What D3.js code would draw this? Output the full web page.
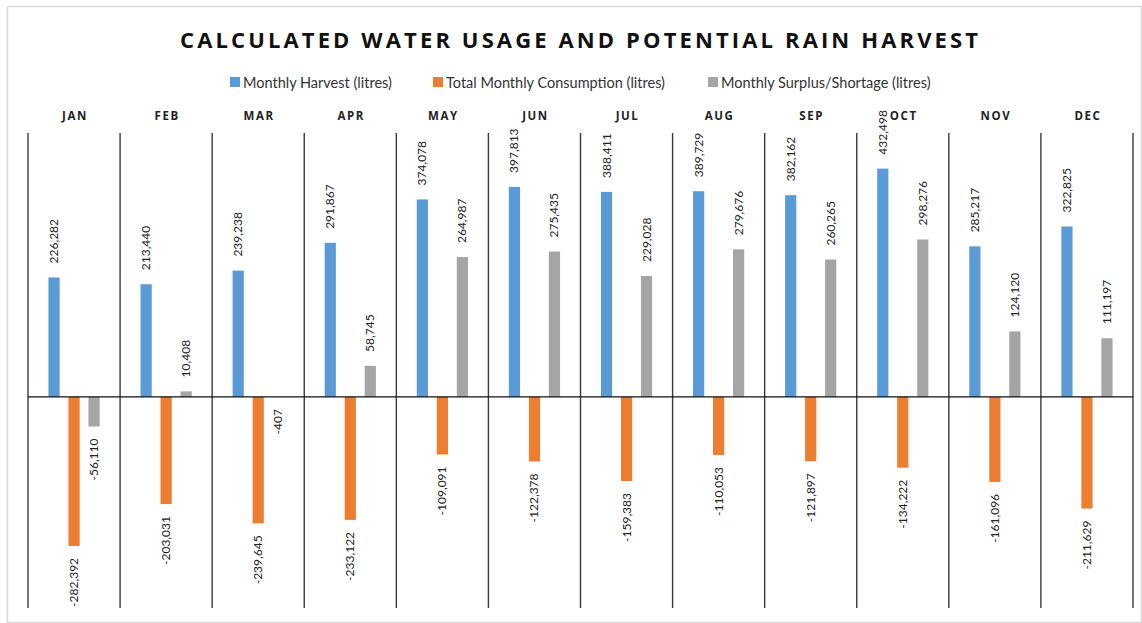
<!DOCTYPE html>
<html>
<head>
<meta charset="utf-8">
<script src="https://cdn.jsdelivr.net/npm/d3@7"></script>
<style>
  html, body { margin: 0; padding: 0; background: #fff; }
  svg { display: block; }
</style>
</head>
<body>
<svg id="chart" width="1142" height="623"></svg>
<script>
// Monthly rain-harvest figures (litres)
const months = ["JAN", "FEB", "MAR", "APR", "MAY", "JUN", "JUL", "AUG", "SEP", "OCT", "NOV", "DEC"];
const harvest = [226282, 213440, 239238, 291867, 374078, 397813, 388411, 389729, 382162, 432498, 285217, 322825];
const consumption = [-282392, -203031, -239645, -233122, -109091, -122378, -159383, -110053, -121897, -134222, -161096, -211629];
const surplus = [-56110, 10408, -407, 58745, 264987, 275435, 229028, 279676, 260265, 298276, 124120, 111197];
const seriesNames = ["Monthly Harvest (litres)", "Total Monthly Consumption (litres)", "Monthly Surplus/Shortage (litres)"];
const seriesColors = ["#5B9BD5", "#ED7D31", "#A5A5A5"];
const valueDomain = [-400000, 500000];

const series = [harvest, consumption, surplus];
const svg = d3.select("#chart");
// thousands separators with a plain hyphen for negatives
const fmt = d3.formatLocale({ decimal: ".", thousands: ",", grouping: [3], currency: ["", ""], minus: "-" }).format(",");

// outer frame
svg.append("rect")
  .attr("x", 7.5).attr("y", 6.5).attr("width", 1134).attr("height", 616)
  .attr("fill", "#fff").attr("stroke", "#d9d9d9").attr("stroke-width", 1.5);

const plot = { left: 28, right: 1133, top: 133, bottom: 608 };

const x = d3.scaleBand().domain(months).range([plot.left, plot.right]).padding(0);
const y = d3.scaleLinear().domain(valueDomain).range([plot.bottom, plot.top]);
const slot = d3.scaleBand().domain(d3.range(3)).range([-28, 28]).paddingInner(0.44).paddingOuter(0.12);

// title
svg.append("text")
  .attr("x", 579).attr("y", 48)
  .attr("text-anchor", "middle")
  .attr("font-family", "'Open Sans', sans-serif")
  .attr("font-weight", 700)
  .attr("font-size", 22)
  .attr("textLength", 798)
  .attr("lengthAdjust", "spacing")
  .attr("fill", "#111")
  .text("CALCULATED WATER USAGE AND POTENTIAL RAIN HARVEST");

// legend
const legendX = [230, 433, 708];
const legend = svg.append("g").attr("font-family", "Lato, sans-serif").attr("font-size", 14.5).attr("fill", "#333");
seriesNames.forEach((name, i) => {
  const g = legend.append("g").attr("transform", `translate(${legendX[i]},0)`);
  g.append("rect").attr("x", 0).attr("y", 77).attr("width", 10).attr("height", 10).attr("fill", seriesColors[i]);
  g.append("text").attr("x", 13).attr("y", 87.5).text(name);
});

// month headers
svg.append("g")
  .selectAll("text")
  .data(months)
  .join("text")
  .attr("x", d => x(d) + x.bandwidth() / 2 + 1)
  .attr("y", 120)
  .attr("text-anchor", "middle")
  .attr("font-family", "'Open Sans', sans-serif")
  .attr("font-weight", 700)
  .attr("font-size", 11.5)
  .attr("letter-spacing", 1.6)
  .attr("fill", "#222")
  .text(d => d);

// panel dividers
svg.append("g")
  .selectAll("line")
  .data(months.concat(["end"]))
  .join("line")
  .attr("x1", (d, i) => i < months.length ? x(d) : plot.right)
  .attr("x2", (d, i) => i < months.length ? x(d) : plot.right)
  .attr("y1", plot.top).attr("y2", plot.bottom)
  .attr("stroke", "#3a3a3a").attr("stroke-width", 1.4);

// bars
const barData = [];
months.forEach((m, mi) => series.forEach((s, si) => barData.push({ m, si, v: s[mi] })));
const barX = d => x(d.m) + x.bandwidth() / 2 + slot(d.si);
const barW = slot.bandwidth();

svg.append("g")
  .selectAll("rect")
  .data(barData)
  .join("rect")
  .attr("x", barX)
  .attr("width", barW)
  .attr("y", d => y(Math.max(0, d.v)))
  .attr("height", d => Math.abs(y(d.v) - y(0)))
  .attr("fill", d => seriesColors[d.si]);

// zero line
svg.append("line")
  .attr("x1", plot.left).attr("x2", plot.right)
  .attr("y1", y(0)).attr("y2", y(0))
  .attr("stroke", "#111").attr("stroke-width", 1.2);

// value labels, rotated
svg.append("g")
  .attr("font-family", "Lato, sans-serif")
  .attr("font-size", 12)
  .attr("fill", "#222")
  .selectAll("text")
  .data(barData)
  .join("text")
  .attr("transform", d => {
    const cx = barX(d) + barW / 2 + 4;
    const cy = d.v >= 0 ? y(d.v) - 14 : y(d.v) + 12;
    return `translate(${cx},${cy}) rotate(-90)`;
  })
  .attr("text-anchor", d => d.v >= 0 ? "start" : "end")
  .text(d => fmt(d.v));
</script>
</body>
</html>
